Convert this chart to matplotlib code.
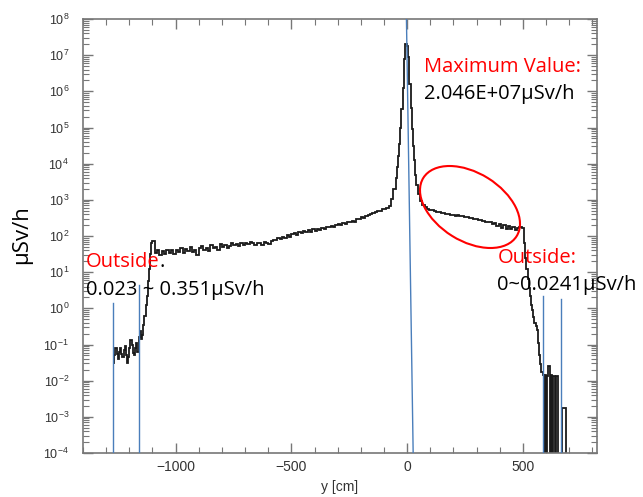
import matplotlib.pyplot as plt
import numpy as np
from matplotlib.patches import Ellipse
from matplotlib.ticker import LogLocator, MultipleLocator, NullFormatter

W, H = 643, 497  # output size in pixels

# dose rate profile along y, log10(uSv/h) per bin, None = empty bin
# each segment: (first edge [cm], bin width [cm], values)
tail_left = (-1270, 5, [
    -1.50, -1.30, -1.10, -1.25, -1.40, -1.20, -1.10, -1.25, -1.35, -1.15,
    -1.05, -1.30, -1.50, -1.35, -1.10, -0.88, -1.00, -1.24, -1.30, -1.10,
    -0.95, -1.20, -0.80, -0.62, -0.85, -0.75, -0.45, -0.20, 0.10, 0.35,
    0.75, 1.10, 1.50, 1.80])
plateau = (-1100, 10, [
    1.85, 1.52, 1.60, 1.48, 1.58, 1.50, 1.62, 1.54, 1.60, 1.50,
    1.62, 1.55, 1.66, 1.52, 1.64, 1.58, 1.70, 1.55, 1.60, 1.48,
    1.66, 1.72, 1.60, 1.68, 1.58, 1.74, 1.66, 1.70, 1.62, 1.78,
    1.70, 1.76, 1.66, 1.72, 1.80, 1.74, 1.78, 1.72, 1.80, 1.76,
    1.82, 1.78, 1.84, 1.80, 1.76, 1.82, 1.80, 1.76, 1.84, 1.80,
    1.78, 1.86, 1.90, 1.88, 1.94, 1.92, 1.98, 1.95, 2.02, 1.98,
    2.05, 2.08, 2.04, 2.10, 2.08, 2.14, 2.10, 2.16, 2.12, 2.18,
    2.15, 2.20, 2.17, 2.22, 2.20, 2.26, 2.24, 2.28, 2.25, 2.30,
    2.32, 2.30, 2.35, 2.33, 2.38, 2.40, 2.42, 2.40, 2.46, 2.48,
    2.52, 2.50, 2.56, 2.58, 2.62, 2.64, 2.66, 2.68, 2.70, 2.74,
    2.76, 2.78, 2.84, 3.02, 3.30])
peak = (-50, 5, [
    3.60, 3.90, 4.20, 4.55, 5.00, 5.50, 6.10, 6.90, 7.311, 7.30,
    7.25, 6.95, 6.20, 5.55, 4.95, 4.50, 4.10, 3.70, 3.40])
shoulder = (45, 10, [
    3.15, 2.98, 2.86, 2.80, 2.76, 2.73, 2.72, 2.68, 2.66, 2.67,
    2.63, 2.64, 2.60, 2.62, 2.58, 2.59, 2.56, 2.57, 2.54, 2.55,
    2.52, 2.53, 2.50, 2.50, 2.47, 2.48, 2.44, 2.45, 2.42, 2.40,
    2.38, 2.40, 2.34, 2.36, 2.28, 2.34, 2.22, 2.30, 2.20, 2.28,
    2.18, 2.26, 2.17, 2.22, 2.24, 2.22])
tail_right = (505, 5, [
    1.80, 1.40, 1.10, 0.80, 0.55, 0.35, 0.10, -0.05, -0.25, -0.40,
    -0.50, -0.60, -0.95, -1.30, -1.55, -1.75, -1.85, None, -1.85, None,
    -1.88, -1.60, None, -1.85, None, -1.86, -1.86, None, -1.88, None,
    None, None, None, -2.75, -2.75, -2.75, None])
segments = [tail_left, plateau, peak, shoulder, tail_right]

# blue marker lines (x [cm], top value [uSv/h])
guide_x = [-1272, -1159, 586, 664]
guide_top = [1.4, 4.5, 2.2, 1.8]
center_x = [-3, 26]
center_y = [1e8, 1e-4]

# build stairs
edges = [segments[0][0]]
logv = []
for start, width, vals in segments:
    edges += list(start + width * np.arange(1, len(vals) + 1))
    logv += [-10 if v is None else v for v in vals]
edges = np.array(edges, dtype=float)
dose = 10.0 ** np.array(logv)


def px(x, y):
    return x / W, 1 - y / H


fig = plt.figure(figsize=(W / 100, H / 100), dpi=100)
ax = fig.add_axes([83 / W, 1 - 453 / H, (597 - 83) / W, (453 - 19) / H])

ax.stairs(dose, edges, color='#1a1a1a', lw=1.3, baseline=None, zorder=2)
for x, top in zip(guide_x, guide_top):
    ax.plot([x, x], [1e-4, top], color='#4a7ebb', lw=1, zorder=3)
ax.plot(center_x, center_y, color='#4a7ebb', lw=1, zorder=3)

ax.set_yscale('log')
ax.set_ylim(1e-4, 1e8)
ax.set_xlim(-1400, 820)
ax.yaxis.set_major_locator(LogLocator(base=10, numticks=20))
ax.yaxis.set_minor_locator(LogLocator(base=10, subs=np.arange(2, 10), numticks=200))
ax.yaxis.set_minor_formatter(NullFormatter())
ax.xaxis.set_major_locator(MultipleLocator(500))
ax.xaxis.set_minor_locator(MultipleLocator(100))

ax.tick_params(which='both', direction='in', top=True, right=True, color='#777777')
ax.tick_params(which='major', length=7, width=1)
ax.tick_params(which='minor', length=4, width=0.8)
ax.tick_params(axis='x', labelsize=10, labelcolor='#333333', pad=5)
ax.tick_params(axis='y', labelsize=9, labelcolor='#333333', pad=10)
for lab in ax.get_xticklabels() + ax.get_yticklabels():
    lab.set_family('Liberation Sans')
for s in ax.spines.values():
    s.set_color('#777777')
    s.set_linewidth(1.2)
ax.set_xlabel('y [cm]', fontsize=10, color='#333333', family='Liberation Sans', labelpad=4)

# annotations
font = ['Open Sans', 'DejaVu Sans']
fs = 14.5
fig.text(*px(22, 235), 'μSv/h', rotation=90, ha='center', va='center',
         fontsize=16, family=font)
fig.text(*px(424, 67), 'Maximum Value:', color='red', fontsize=fs, va='center', family=font)
fig.text(*px(424, 94), '2.046E+07μSv/h', color='black', fontsize=fs, va='center', family=font)
out_l = fig.text(*px(86, 262), 'Outside', color='red', fontsize=fs, va='center', family=font)
fig.text(*px(86, 290), '0.023 ~ 0.351μSv/h', color='black', fontsize=fs, va='center', family=font)
fig.text(*px(498, 258), 'Outside:', color='red', fontsize=fs, va='center', family=font)
fig.text(*px(497, 285), '0~0.0241μSv/h', color='black', fontsize=fs, va='center', family=font)
ax.annotate('.', xy=(1, 0.5), xycoords=out_l, va='center', ha='left',
            fontsize=fs, family=font, color='black', annotation_clip=False)

fig.add_artist(Ellipse((4.70, 2.90), 1.10, 0.68, angle=-32, fill=False,
                       edgecolor='red', lw=1.5, transform=fig.dpi_scale_trans))

fig.savefig('out.png', dpi=100)
